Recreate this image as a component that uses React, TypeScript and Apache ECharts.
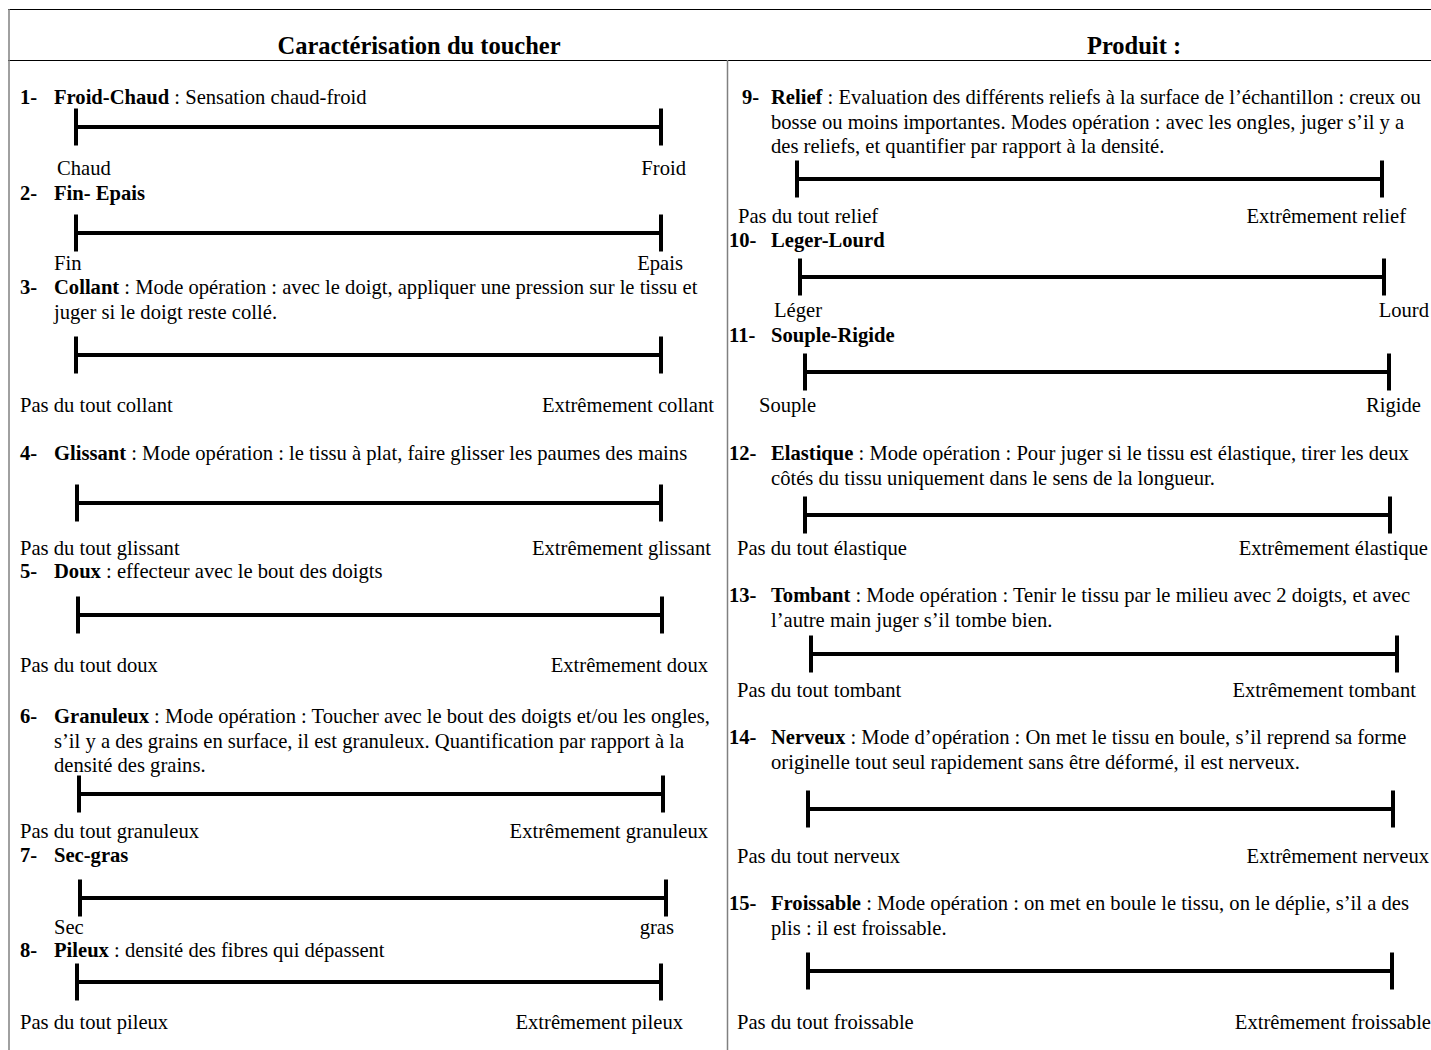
import React, { useEffect, useRef } from "react";
import * as echarts from "echarts";

// ---- Content ----
const HEADERS = ["Caractérisation du toucher", "Produit :"];
const NUMBERS = ["1-", "2-", "3-", "4-", "5-", "6-", "7-", "8-", "9-", "10-", "11-", "12-", "13-", "14-", "15-"];
const TITLES = [
  "Froid-Chaud", "Fin- Epais", "Collant", "Glissant", "Doux", "Granuleux", "Sec-gras", "Pileux",
  "Relief", "Leger-Lourd", "Souple-Rigide", "Elastique", "Tombant", "Nerveux", "Froissable",
];
const DESCRIPTIONS: string[][] = [
  [" : Sensation chaud-froid"],
  [""],
  [" : Mode opération : avec le doigt, appliquer une pression sur le tissu et", "juger si le doigt reste collé."],
  [" : Mode opération : le tissu à plat, faire glisser les paumes des mains"],
  [" : effecteur avec le bout des doigts"],
  [
    " : Mode opération : Toucher avec le bout des doigts et/ou les ongles,",
    "s’il y a des grains en surface, il est granuleux. Quantification par rapport à la",
    "densité des grains.",
  ],
  [""],
  [" : densité des fibres qui dépassent"],
  [
    " : Evaluation des différents reliefs à la surface de l’échantillon : creux ou",
    "bosse ou moins importantes. Modes opération : avec les ongles, juger s’il y a",
    "des reliefs, et quantifier par rapport à la densité.",
  ],
  [""],
  [""],
  [" : Mode opération : Pour juger si le tissu est élastique, tirer les deux", "côtés du tissu uniquement dans le sens de la longueur."],
  [" : Mode opération : Tenir le tissu par le milieu avec 2 doigts, et avec", "l’autre main juger s’il tombe bien."],
  [" : Mode d’opération : On met le tissu en boule, s’il reprend sa forme", "originelle tout seul rapidement sans être déformé, il est nerveux."],
  [" : Mode opération : on met en boule le tissu, on le déplie, s’il a des", "plis : il est froissable."],
];
const LEFT_LABELS = [
  "Chaud", "Fin", "Pas du tout collant", "Pas du tout glissant", "Pas du tout doux", "Pas du tout granuleux", "Sec", "Pas du tout pileux",
  "Pas du tout relief", "Léger", "Souple", "Pas du tout élastique", "Pas du tout tombant", "Pas du tout nerveux", "Pas du tout froissable",
];
const RIGHT_LABELS = [
  "Froid", "Epais", "Extrêmement collant", "Extrêmement glissant", "Extrêmement doux", "Extrêmement granuleux", "gras", "Extrêmement pileux",
  "Extrêmement relief", "Lourd", "Rigide", "Extrêmement élastique", "Extrêmement tombant", "Extrêmement nerveux", "Extrêmement froissable",
];

// ---- Layout (page positions) ----
const HEAD_Y = [97, 193, 287, 453, 571, 716, 855, 950, 97, 240, 335, 453, 595, 737, 903];
const NUM_X = [20, 20, 20, 20, 20, 20, 20, 20, 742, 729, 729, 729, 729, 729, 729];
const TEXT_X = [54, 54, 54, 54, 54, 54, 54, 54, 771, 771, 771, 771, 771, 771, 771];
const BAR_X1 = [76, 76, 76, 77, 78, 79, 80, 77, 797, 800, 805, 805, 811, 808, 808];
const BAR_X2 = [661, 661, 661, 661, 662, 663, 666, 661, 1382, 1384, 1389, 1390, 1397, 1393, 1392];
const BAR_Y = [127, 233, 355, 503, 615, 794, 898, 982, 179, 277, 372, 515, 654, 809, 971];
const LABEL_Y = [168, 263, 405, 548, 665, 831, 927, 1022, 216, 310, 405, 548, 690, 856, 1022];
const LEFT_X = [57, 54, 20, 20, 20, 20, 54, 20, 738, 774, 759, 737, 737, 737, 737];
const RIGHT_END = [686, 683, 714, 711, 708, 708, 674, 683, 1406, 1429, 1421, 1428, 1416, 1429, 1431];
const HEADER_X = [419, 1134];

const W = 1431;
const H = 1050;
const FONT = "'Liberation Serif', 'Times New Roman', serif";
const FS = 20.6;
const HFS = 24.5;
const LINE_H = 24.5;
const TICK_HALF = 18.5;

function buildGraphics() {
  const els: any[] = [];
  // frame
  els.push({ type: "line", shape: { x1: 8, y1: 9.5, x2: W, y2: 9.5 }, style: { stroke: "#000", lineWidth: 1 } });
  els.push({ type: "line", shape: { x1: 8, y1: 60.5, x2: W, y2: 60.5 }, style: { stroke: "#000", lineWidth: 1 } });
  els.push({ type: "line", shape: { x1: 9, y1: 9, x2: 9, y2: H }, style: { stroke: "#808080", lineWidth: 1.5 } });
  els.push({ type: "line", shape: { x1: 727.5, y1: 60, x2: 727.5, y2: H }, style: { stroke: "#808080", lineWidth: 1.5 } });
  // headers
  HEADERS.forEach((h, i) => {
    els.push({
      type: "text",
      x: HEADER_X[i],
      y: 45,
      style: { text: h, fontFamily: FONT, fontSize: HFS, fontWeight: "bold", fill: "#000", align: "center", verticalAlign: "middle" },
    });
  });
  TITLES.forEach((title, i) => {
    els.push({
      type: "text",
      x: NUM_X[i],
      y: HEAD_Y[i],
      style: { text: NUMBERS[i], fontFamily: FONT, fontSize: FS, fontWeight: "bold", fill: "#000", verticalAlign: "middle" },
    });
    const lines = DESCRIPTIONS[i];
    els.push({
      type: "text",
      x: TEXT_X[i],
      y: HEAD_Y[i],
      style: {
        text: "{b|" + title + "}{n|" + lines[0] + "}",
        fontFamily: FONT,
        fontSize: FS,
        fill: "#000",
        verticalAlign: "middle",
        rich: {
          b: { fontFamily: FONT, fontSize: FS, fontWeight: "bold", fill: "#000" },
          n: { fontFamily: FONT, fontSize: FS, fontWeight: "normal", fill: "#000" },
        },
      },
    });
    for (let k = 1; k < lines.length; k++) {
      els.push({
        type: "text",
        x: TEXT_X[i],
        y: HEAD_Y[i] + LINE_H * k,
        style: { text: lines[k], fontFamily: FONT, fontSize: FS, fill: "#000", verticalAlign: "middle" },
      });
    }
    // scale bar
    els.push({ type: "line", shape: { x1: BAR_X1[i], y1: BAR_Y[i], x2: BAR_X2[i], y2: BAR_Y[i] }, style: { stroke: "#000", lineWidth: 4 } });
    els.push({ type: "line", shape: { x1: BAR_X1[i], y1: BAR_Y[i] - TICK_HALF, x2: BAR_X1[i], y2: BAR_Y[i] + TICK_HALF }, style: { stroke: "#000", lineWidth: 4 } });
    els.push({ type: "line", shape: { x1: BAR_X2[i], y1: BAR_Y[i] - TICK_HALF, x2: BAR_X2[i], y2: BAR_Y[i] + TICK_HALF }, style: { stroke: "#000", lineWidth: 4 } });
    // end labels
    els.push({
      type: "text",
      x: LEFT_X[i],
      y: LABEL_Y[i],
      style: { text: LEFT_LABELS[i], fontFamily: FONT, fontSize: FS, fill: "#000", verticalAlign: "middle", align: "left" },
    });
    els.push({
      type: "text",
      x: RIGHT_END[i],
      y: LABEL_Y[i],
      style: { text: RIGHT_LABELS[i], fontFamily: FONT, fontSize: FS, fill: "#000", verticalAlign: "middle", align: "right" },
    });
  });
  return els;
}

export default function App() {
  const ref = useRef<HTMLDivElement>(null);
  useEffect(() => {
    document.body.style.margin = "0";
    const chart = echarts.init(ref.current!, undefined, { renderer: "svg" });
    chart.setOption({
      animation: false,
      backgroundColor: "#fff",
      graphic: { elements: buildGraphics() },
    });
    return () => chart.dispose();
  }, []);
  return <div ref={ref} style={{ position: "absolute", left: 0, top: 0, width: W, height: H }} />;
}
